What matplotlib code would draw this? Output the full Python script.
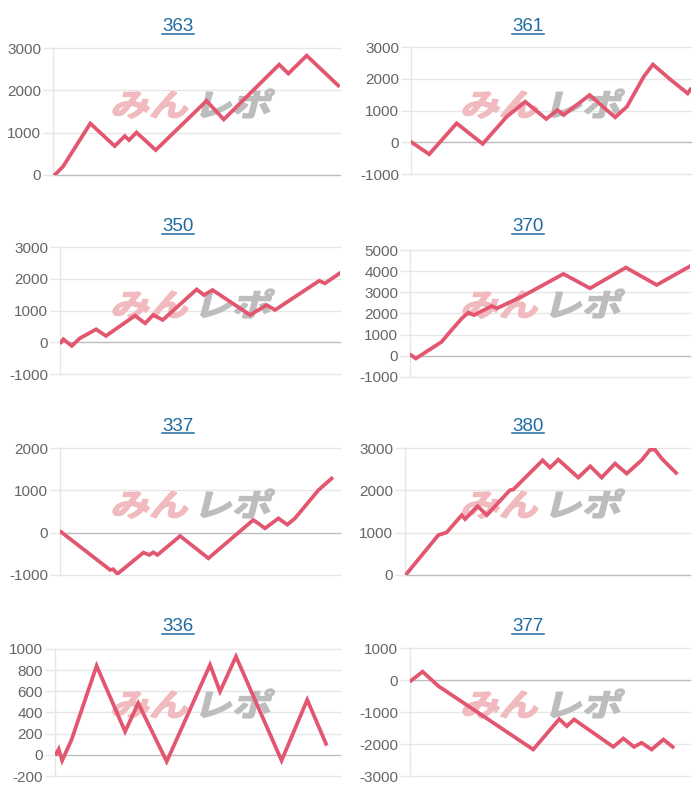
import matplotlib
matplotlib.use("Agg")
import matplotlib.pyplot as plt
from matplotlib.lines import Line2D
from matplotlib.textpath import TextPath
from matplotlib.patches import PathPatch
from matplotlib.font_manager import FontProperties
from matplotlib.transforms import Affine2D

plt.rcParams['font.family'] = ['Liberation Sans', 'DejaVu Sans']

# 台番号
titles = ['363', '361', '350', '370', '337', '380', '336', '377']

# 差枚推移 (x はグラフ幅に対する割合 0-100)
x_363 = [0.6, 3.5, 13.0, 21.5, 25.0, 26.5, 29.1, 35.8, 53.5, 59.5, 78.8, 82.0, 88.4, 99.4]
y_363 = [0, 200, 1218, 683, 919, 825, 1005, 589, 1752, 1312, 2608, 2396, 2820, 2113]

x_361 = [0.2, 6.5, 16.3, 25.6, 34.2, 40.8, 48.3, 52.3, 54.5, 63.8, 72.9, 77.1, 83.1, 86.4, 92.6, 98.8, 99.8]
y_361 = [0, -377, 597, -52, 806, 1277, 733, 1016, 859, 1487, 785, 1120, 2063, 2450, 1979, 1539, 1665]

x_350 = [0.4, 1.2, 4.2, 7.1, 12.9, 16.4, 26.8, 30.4, 33.3, 36.7, 48.8, 51.4, 54.5, 67.9, 73.8, 76.8, 92.6, 94.6, 99.8]
y_350 = [0, 94, -115, 126, 408, 199, 838, 597, 859, 702, 1665, 1487, 1644, 859, 1173, 1016, 1937, 1853, 2168]

x_370 = [0.4, 2.1, 11.3, 14.3, 18.5, 20.8, 22.9, 29.2, 31.0, 39.9, 41.7, 54.8, 64.3, 77.1, 88.1, 99.8]
y_370 = [32, -126, 663, 1137, 1769, 2038, 1927, 2354, 2243, 2796, 2922, 3870, 3191, 4170, 3349, 4218]

x_337 = [0.4, 17.9, 19.0, 20.5, 29.8, 31.9, 33.3, 34.8, 42.9, 53.0, 69.0, 70.8, 73.2, 78.0, 81.2, 83.9, 92.3, 97.0]
y_337 = [16, -880, -864, -974, -471, -526, -463, -526, -79, -605, 299, 220, 102, 338, 189, 338, 1005, 1280]

x_380 = [0.4, 11.7, 14.6, 19.9, 21.1, 25.5, 28.7, 36.8, 38.0, 48.3, 50.9, 53.8, 60.8, 65.0, 69.0, 73.7, 77.8,
         83.0, 86.0, 87.7, 90.1, 95.1]
y_380 = [16, 943, 1005, 1414, 1320, 1626, 1414, 2003, 2019, 2710, 2537, 2726, 2302, 2569, 2302, 2632, 2396,
         2710, 2961, 2961, 2749, 2412]

x_336 = [0.4, 1.3, 2.5, 5.8, 14.6, 24.6, 29.2, 39.2, 54.4, 57.9, 63.5, 79.5, 88.5, 95.1]
y_336 = [9, 54, -54, 142, 841, 220, 488, -63, 850, 598, 929, -54, 520, 104]

x_377 = [0.4, 4.5, 10.1, 44.0, 53.3, 56.0, 58.6, 72.6, 76.2, 80.0, 82.7, 86.3, 90.5, 93.8]
y_377 = [-21, 261, -188, -2172, -1222, -1441, -1232, -2089, -1828, -2089, -1963, -2172, -1859, -2089]

xs = [x_363, x_361, x_350, x_370, x_337, x_380, x_336, x_377]
ys = [y_363, y_361, y_350, y_370, y_337, y_380, y_336, y_377]

# y軸の範囲と目盛り間隔
y_min = [0, -1000, -1000, -1000, -1000, 0, -200, -3000]
y_max = [3000, 3000, 3000, 5000, 2000, 3000, 1000, 1000]
y_step = [1000, 1000, 1000, 1000, 1000, 1000, 200, 1000]

# 各グラフの描画領域 (px: 左, 上, 右, 下)
boxes = [(53, 48, 340, 175), (411, 47, 691, 174),
         (60, 247, 340, 374), (410, 250, 690, 377),
         (60, 448, 340, 575), (405, 448, 690, 575),
         (55, 649, 340, 776), (410, 648, 690, 776)]

W, H = 700, 800
line_color = '#e2566f'
grid_color = '#e6e6e6'
zero_color = '#bdbdbd'
title_color = '#1f6aa0'

fig = plt.figure(figsize=(7, 8), dpi=100)
fig.patch.set_facecolor('white')

wm_font = FontProperties(family='Noto Sans CJK JP', weight='bold')


def watermark(ax, text, px, py, color):
    # px, py: 左下 (ピクセル, 上から)
    path = TextPath((0, 0), text, size=31, prop=wm_font)
    tr = (Affine2D().scale(1.25, 1.0).skew_deg(14, 0)
          .translate(px, H - py).scale(1 / 100.0) + fig.dpi_scale_trans)
    patch = PathPatch(path, transform=tr, facecolor=color, edgecolor=color,
                      lw=1.2, zorder=2, clip_on=False)
    ax.add_artist(patch)


title_texts = []
for i in range(8):
    l, t, r, b = boxes[i]
    ax = fig.add_axes([l / W, 1 - b / H, (r - l) / W, (b - t) / H])
    ax.plot(xs[i], ys[i], color=line_color, lw=2.7, solid_joinstyle='miter', zorder=3)
    ax.set_xlim(0, 100)
    ax.set_ylim(y_min[i], y_max[i])
    ticks = list(range(y_min[i], y_max[i] + 1, y_step[i]))
    ax.set_yticks(ticks)
    ax.set_yticklabels([str(v) for v in ticks])
    ax.set_xticks([])
    ax.grid(False)
    for v in ticks:
        c = zero_color if v == 0 else grid_color
        ax.axhline(v, color=c, lw=1, zorder=1, clip_on=False)
    for s in ['top', 'right', 'bottom']:
        ax.spines[s].set_visible(False)
    ax.spines['left'].set_color(grid_color)
    ax.spines['left'].set_linewidth(1)
    ax.tick_params(axis='y', length=7.5, width=1, color=grid_color, labelcolor='#666666',
                   labelsize=11, pad=1)

    # ウォーターマーク
    cx = (i % 2) * 350
    cy = (i // 2) * 200
    watermark(ax, 'みん', cx + 110, cy + 116, '#f0babf')
    watermark(ax, 'レポ', cx + 193, cy + 116, '#bdbdbd')

    # タイトル (リンク風)
    tx = (cx + 178) / W
    ty = 1 - (cy + 31) / H
    tt = fig.text(tx, ty, titles[i], ha='center', va='baseline', fontsize=13.5, color=title_color)
    title_texts.append((tt, ty))

# 下線
fig.canvas.draw()
renderer = fig.canvas.get_renderer()
for tt, ty in title_texts:
    bb = tt.get_window_extent(renderer)
    uy = ty - 2.5 / H
    fig.add_artist(Line2D([bb.x0 / W, bb.x1 / W], [uy, uy], transform=fig.transFigure,
                          color=title_color, lw=1.1))

fig.savefig('out.png', dpi=100, facecolor='white')
